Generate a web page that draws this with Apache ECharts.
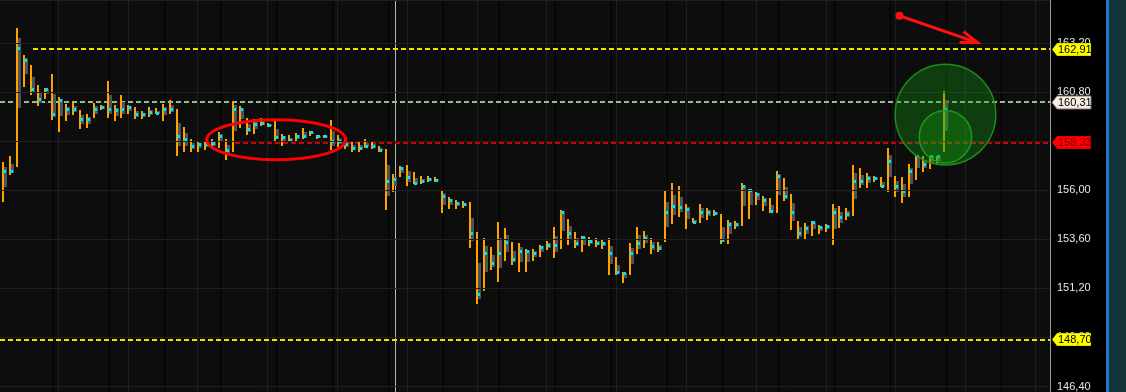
<!DOCTYPE html>
<html><head><meta charset="utf-8">
<script src="https://cdn.jsdelivr.net/npm/echarts@6/dist/echarts.min.js"></script>
<style>html,body{margin:0;padding:0;background:#000;overflow:hidden}#c{width:1126px;height:392px}</style>
</head><body><div id="c"></div>
<script>
// ---- data ----
const highs = [
157.36,157.68,163.91,162.62,162.13,161.16,161.00,161.65,160.56,160.19,
160.27,159.90,159.70,160.27,160.14,161.32,160.14,160.67,160.14,160.08,
159.86,160.06,160.03,160.19,160.38,159.95,159.07,158.49,158.41,158.36,
158.49,158.82,158.52,160.35,160.11,159.50,159.46,159.54,159.30,159.38,
158.73,158.68,158.77,159.01,158.89,158.70,158.70,159.41,158.68,158.49,
158.33,158.41,158.52,158.33,158.17,158.00,156.79,157.19,157.23,156.87,
156.71,156.71,156.63,156.01,155.66,155.50,155.45,155.42,153.93,153.67,
153.20,154.45,154.17,153.44,153.39,153.10,153.12,153.31,153.52,154.20,
155.04,154.61,153.93,153.77,153.72,153.64,153.55,153.64,152.71,152.02,
153.43,154.20,154.01,153.64,153.44,155.95,156.35,156.19,155.34,154.64,
155.34,155.13,155.01,154.85,154.52,154.48,156.35,156.06,155.93,155.72,
155.63,156.92,156.58,155.79,154.50,154.41,154.50,154.28,154.33,155.30,
155.22,155.14,157.23,157.07,156.84,156.71,156.63,158.04,156.71,156.63,
157.28,157.71,157.65,157.65,157.68,160.84];
const lows = [
155.40,156.74,157.15,161.03,160.67,160.11,160.43,159.43,158.82,159.38,
159.66,158.98,159.01,159.50,159.91,159.51,159.38,159.50,159.74,159.46,
159.46,159.57,159.70,159.38,159.70,157.68,157.87,157.87,157.87,157.97,
158.00,158.04,157.49,157.84,159.01,158.68,158.73,159.14,159.06,158.41,
158.17,158.33,158.41,158.49,158.65,158.52,158.54,157.96,158.09,158.00,
157.87,157.87,158.04,158.00,157.84,155.01,155.93,156.63,156.19,156.30,
156.31,156.39,156.39,154.88,155.06,155.09,155.13,153.18,150.45,151.05,
152.10,151.49,152.55,152.34,152.02,152.02,152.55,152.75,153.07,152.70,
153.12,153.34,153.18,152.99,153.28,153.23,153.12,151.85,151.85,151.45,
151.85,152.87,153.15,152.87,152.99,153.48,154.36,154.66,154.09,154.40,
154.40,154.52,154.74,153.36,153.36,154.09,154.23,154.57,155.25,154.96,
154.88,154.88,155.45,154.04,153.55,153.60,153.77,153.83,153.93,153.34,
154.16,154.52,154.74,156.10,156.10,156.39,156.15,155.90,155.66,155.38,
155.66,156.47,156.90,157.03,157.23,157.87];
const marks = [
156.92,156.92,162.94,162.37,160.95,160.47,160.95,159.74,160.38,159.95,
159.95,159.46,159.46,159.95,160.06,159.95,159.90,159.95,160.06,159.74,
159.74,159.83,159.79,159.95,159.95,158.64,158.52,158.17,158.25,158.25,
158.28,158.62,157.96,159.95,159.95,158.98,159.22,159.30,159.17,158.57,
158.57,158.44,158.65,158.65,158.82,158.62,158.62,158.41,158.41,158.25,
158.04,158.04,158.17,158.14,157.97,156.44,156.55,157.08,156.63,156.33,
156.44,156.55,156.47,155.71,155.50,155.37,155.34,153.91,150.92,152.94,
152.42,152.94,153.48,152.62,153.04,153.04,152.94,153.23,153.31,153.31,
154.93,153.91,153.43,153.72,153.52,153.43,153.43,152.94,152.02,151.94,
152.94,153.43,153.64,153.28,153.18,154.93,155.22,155.17,155.09,154.45,
154.93,154.93,154.90,153.55,154.33,154.32,156.22,155.98,155.82,155.53,
154.96,156.68,155.71,154.93,153.91,154.17,154.45,154.20,154.25,154.93,
154.66,154.85,156.44,156.44,156.58,156.60,156.22,157.44,156.19,155.95,
156.92,157.65,157.28,157.65,157.68,159.95];
const levelValues = [162.91, 160.31, 158.33, 148.70];
const yMin = 146.4, yMax = 165.29, yStep = 2.4;

// ---- layout & style ----
const xMin = -0.43, xMax = 150.2;
const levelStarts = [4.3, xMin, 33.28, xMin];
const levelLine = ['#e6e600', '#8fc48f', '#d00000', '#e6e600'];
const tagFill = ['#ffff00', '#f6eddf', '#ff0000', '#ffff00'];
const tagText = ['#000', '#000', '#7a0000', '#000'];
const cursorIndex = 56.24;
const fmt = v => v.toFixed(2).replace('.', ',');

const chart = echarts.init(document.getElementById('c'), null, {renderer: 'canvas'});
const barData = highs.map((h, i) => [i, h, lows[i], marks[i]]);

function renderItem(params, api) {
  const i = api.value(0);
  const t = api.coord([i, api.value(1)]);
  const b = api.coord([i, api.value(2)]);
  const m = api.coord([i, api.value(3)]);
  const x = Math.round(t[0]) - 1;
  const ty = Math.round(t[1]), by = Math.round(b[1]), my = Math.round(m[1]);
  const gt = Math.round((ty + my) / 2), gb = Math.round((my + by) / 2);
  return {type: 'group', children: [
    {type: 'rect', shape: {x: x + 2, y: gt, width: 3, height: Math.max(1, gb - gt)}, style: {fill: '#4b525b'}},
    {type: 'rect', shape: {x: x, y: ty, width: 2, height: Math.max(2, by - ty)}, style: {fill: '#ffa200'}},
    {type: 'rect', shape: {x: x + 1, y: my - 1, width: 3, height: 3}, style: {fill: '#00e6ee'}}
  ]};
}

const markLineData = levelValues.map((v, k) => [
  {coord: [levelStarts[k], v], lineStyle: {color: levelLine[k], width: 2, type: [5, 3]}},
  {coord: [xMax, v]}
]);

const hiddenLine = {show: false, onZero: false};
const option = {
  animation: false,
  backgroundColor: '#0d0d0d',
  grid: [
    {left: 0, right: 76, top: 0, bottom: 3},
    {left: 58, right: 76, top: 0, bottom: 0},
    {left: 53, right: 76, top: 0, bottom: 0}
  ],
  xAxis: [
    {gridIndex: 0, type: 'value', min: xMin, max: xMax, show: false, axisLine: hiddenLine, splitLine: {show: false}},
    {gridIndex: 1, type: 'value', min: 0, max: 992 / 69.8, interval: 1,
      axisLine: hiddenLine, axisTick: {show: false}, axisLabel: {show: false},
      splitLine: {show: true, showMaxLine: false, lineStyle: {color: '#1e1e1e', width: 1}}},
    {gridIndex: 2, type: 'value', min: 0, max: 997 / 55.8, interval: 1,
      axisLine: hiddenLine, axisTick: {show: false}, axisLabel: {show: false},
      splitLine: {show: true, showMaxLine: false, lineStyle: {color: '#000', width: 1}}}
  ],
  yAxis: [
    {gridIndex: 0, type: 'value', position: 'right', min: yMin, max: yMax, interval: yStep, z: 10,
      axisLine: {show: false, onZero: false},
      axisTick: {show: false},
      axisLabel: {show: true, showMaxLabel: false, margin: 7, color: '#e8e8e8',
        fontFamily: 'Liberation Sans', fontSize: 11, formatter: fmt},
      splitLine: {show: true, lineStyle: {color: '#1f1f1f', width: 1}}},
    {gridIndex: 1, type: 'value', min: 0, max: 1, show: false, axisLine: hiddenLine, splitLine: {show: false}},
    {gridIndex: 2, type: 'value', min: 0, max: 1, show: false, axisLine: hiddenLine, splitLine: {show: false}}
  ],
  series: [{
    type: 'custom', xAxisIndex: 0, yAxisIndex: 0, z: 5,
    renderItem: renderItem, data: barData, encode: {x: 0, y: [1, 2, 3]},
    markLine: {silent: true, symbol: 'none', label: {show: false}, animation: false, data: markLineData}
  }]
};
chart.setOption(option);

// ---- annotations anchored through the axes ----
const P = (i, v) => chart.convertToPixel({gridIndex: 0}, [i, v]);
const axisX = Math.round(P(xMax, yMin)[0]);
const cursorX = Math.round(P(cursorIndex, yMin)[0]) + 0.5;
const g = [];
g.push({type: 'rect', z: 1, shape: {x: axisX + 1, y: 0, width: 1106 - axisX - 1, height: 392}, style: {fill: '#000'}});
g.push({type: 'rect', z: 1, shape: {x: 1106, y: 0, width: 3, height: 392}, style: {fill: '#1f76c4'}});
g.push({type: 'rect', z: 1, shape: {x: 1109, y: 0, width: 17, height: 392}, style: {fill: '#133539'}});
g.push({type: 'line', z: 12, shape: {x1: axisX + 0.5, y1: 0, x2: axisX + 0.5, y2: 392}, style: {stroke: '#9a9a9a', lineWidth: 1}});
g.push({type: 'line', z: 4, shape: {x1: cursorX, y1: 0, x2: cursorX, y2: 392}, style: {stroke: '#b8b8b8', lineWidth: 1}});

// price tags
levelValues.forEach((v, k) => {
  const y = Math.round(P(0, v)[1]) + 0.5;
  const x0 = axisX + 2, x1 = axisX + 7, x2 = axisX + 41;
  g.push({type: 'polygon', z: 20, shape: {points: [[x0, y], [x1, y - 6.5], [x2, y - 6.5], [x2, y + 6.5], [x1, y + 6.5]]},
    style: {fill: tagFill[k], stroke: k === 1 ? '#777' : 'rgba(0,0,0,0.25)', lineWidth: 1}});
  g.push({type: 'text', z: 21, style: {text: fmt(v), x: x1 + 1, y: y + 0.5, fill: tagText[k],
    font: '11px "Liberation Sans"', align: 'left', verticalAlign: 'middle'}});
});

// red ellipse around the consolidation
const ec = P(39.2, 158.46);
g.push({type: 'ellipse', z: 30, shape: {cx: ec[0], cy: ec[1], rx: 69.5, ry: 20},
  style: {fill: 'none', stroke: '#ff0000', lineWidth: 3}});

// red arrow
const a0 = P(128.6, 164.52), a1 = P(139.8, 163.21);
g.push({type: 'circle', z: 30, shape: {cx: a0[0], cy: a0[1], r: 4}, style: {fill: '#ff1010'}});
g.push({type: 'line', z: 30, shape: {x1: a0[0], y1: a0[1], x2: a1[0], y2: a1[1]}, style: {stroke: '#ff1010', lineWidth: 3, lineCap: 'round'}});
g.push({type: 'polyline', z: 30, shape: {points: [[a1[0] - 14, a1[1] - 11], [a1[0], a1[1]], [a1[0] - 18, a1[1]]]},
  style: {stroke: '#ff1010', lineWidth: 3, fill: 'none', lineJoin: 'miter'}});

// green circles
const c1 = P(135.2, 159.69), c2 = P(135.2, 158.61);
g.push({type: 'circle', z: 30, shape: {cx: c1[0], cy: c1[1], r: 50.3},
  style: {fill: 'rgba(20,160,20,0.33)', stroke: '#1c8c1c', lineWidth: 1.5}});
g.push({type: 'circle', z: 31, shape: {cx: c2[0], cy: c2[1], r: 26.2},
  style: {fill: 'rgba(20,170,20,0.30)', stroke: '#1c9a1c', lineWidth: 1.5}});

chart.setOption({graphic: {elements: g}});
</script>
</body></html>
